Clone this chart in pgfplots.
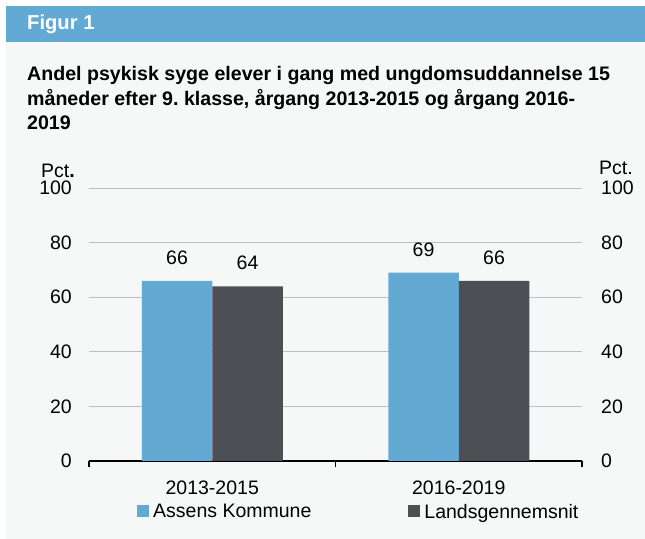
\documentclass[border=0pt]{standalone}
\usepackage{fontspec}
\setmainfont{Liberation Sans}
\usepackage{pgfplots}
\pgfplotsset{compat=1.18}
\definecolor{hdr}{HTML}{62A9D4}
\definecolor{panel}{HTML}{F6F8F8}
\definecolor{bblue}{HTML}{62A9D4}
\definecolor{bgray}{HTML}{4E4F55}
\definecolor{gridc}{HTML}{BDBDBD}
\newcommand{\lblfont}{\fontsize{19.5bp}{23bp}\selectfont}
\frenchspacing
\begin{document}
\begin{tikzpicture}[x=1bp,y=1bp]
\fill[white] (0,0) rectangle (645,539);
\fill[panel] (6,0) rectangle (645,497);
\fill[hdr] (6,497) rectangle (645,533);
\node[anchor=west,text=white,font=\bfseries\fontsize{20.2bp}{22bp}\selectfont,inner sep=0] at (27,514.5) {Figur 1};
\node[anchor=north west,align=left,font=\bfseries\fontsize{19.6bp}{24.5bp}\selectfont,inner sep=0] at (27,472.5)
 {Andel psykisk syge elever i gang med ungdomsuddannelse 15\\måneder efter 9. klasse, årgang 2013-2015 og årgang 2016-\\2019};
\node[font=\lblfont,inner sep=0] at (58,368.5) {Pct\textbf{.}};
\node[font=\lblfont,inner sep=0] at (616,371) {Pct.};
\begin{axis}[
  at={(89bp,78bp)}, anchor=south west, scale only axis,
  width=493bp, height=273bp,
  ymin=0, ymax=100, xmin=-0.5, xmax=1.5,
  ybar=0pt, bar width=70.5bp,
  axis x line*=bottom, axis y line*=left,
  y axis line style={draw=none},
  x axis line style={black,line width=1.3bp},
  ytick={0,20,...,100},
  ymajorgrids, grid style={gridc,line width=0.9bp},
  xtick={0,1}, xticklabels={2013-2015,2016-2019},
  major tick length=0pt,
  extra x ticks={-0.5,0.5,1.5}, extra x tick labels={},
  extra x tick style={major tick length=6bp, tick align=outside, tick style={black,line width=1.3bp}, grid=none},
  /pgf/number format/assume math mode=true,
  yticklabel style={font=\lblfont,inner sep=0,anchor=east,xshift=-17bp},
  xticklabel style={font=\lblfont,inner sep=0,anchor=north,yshift=-20bp},
  nodes near coords,
  every node near coord/.append style={font=\lblfont,inner sep=0,anchor=center,yshift=23bp,text=black},
  legend columns=2,
  legend style={at={(0.0974,-0.183)},anchor=west,draw=none,fill=none,inner sep=0,
    font=\lblfont, nodes={inner sep=0pt, text depth=0pt}},
  /tikz/every even column/.append style={column sep=97bp},
  legend image code/.code={\fill[#1] (0bp,-6bp) rectangle (12bp,6bp);},
  legend cell align=left,
]
\addplot[fill=bblue,draw=none] coordinates {(0,66) (1,69)};
\addplot[fill=bgray,draw=none] coordinates {(0,64) (1,66)};
\legend{\hspace{4bp}Assens Kommune,\hspace{4bp}Landsgennemsnit}
\end{axis}
\begin{axis}[
  at={(89bp,78bp)}, anchor=south west, scale only axis,
  width=493bp, height=273bp,
  ymin=0, ymax=100, xmin=-0.5, xmax=1.5,
  axis x line=none, axis y line*=right,
  y axis line style={draw=none},
  ytick={0,20,...,100}, major tick length=0pt,
  /pgf/number format/assume math mode=true,
  yticklabel style={font=\lblfont,inner sep=0,anchor=west,xshift=19bp},
]
\addplot[draw=none] coordinates {(0,0)};
\end{axis}
\end{tikzpicture}
\end{document}
